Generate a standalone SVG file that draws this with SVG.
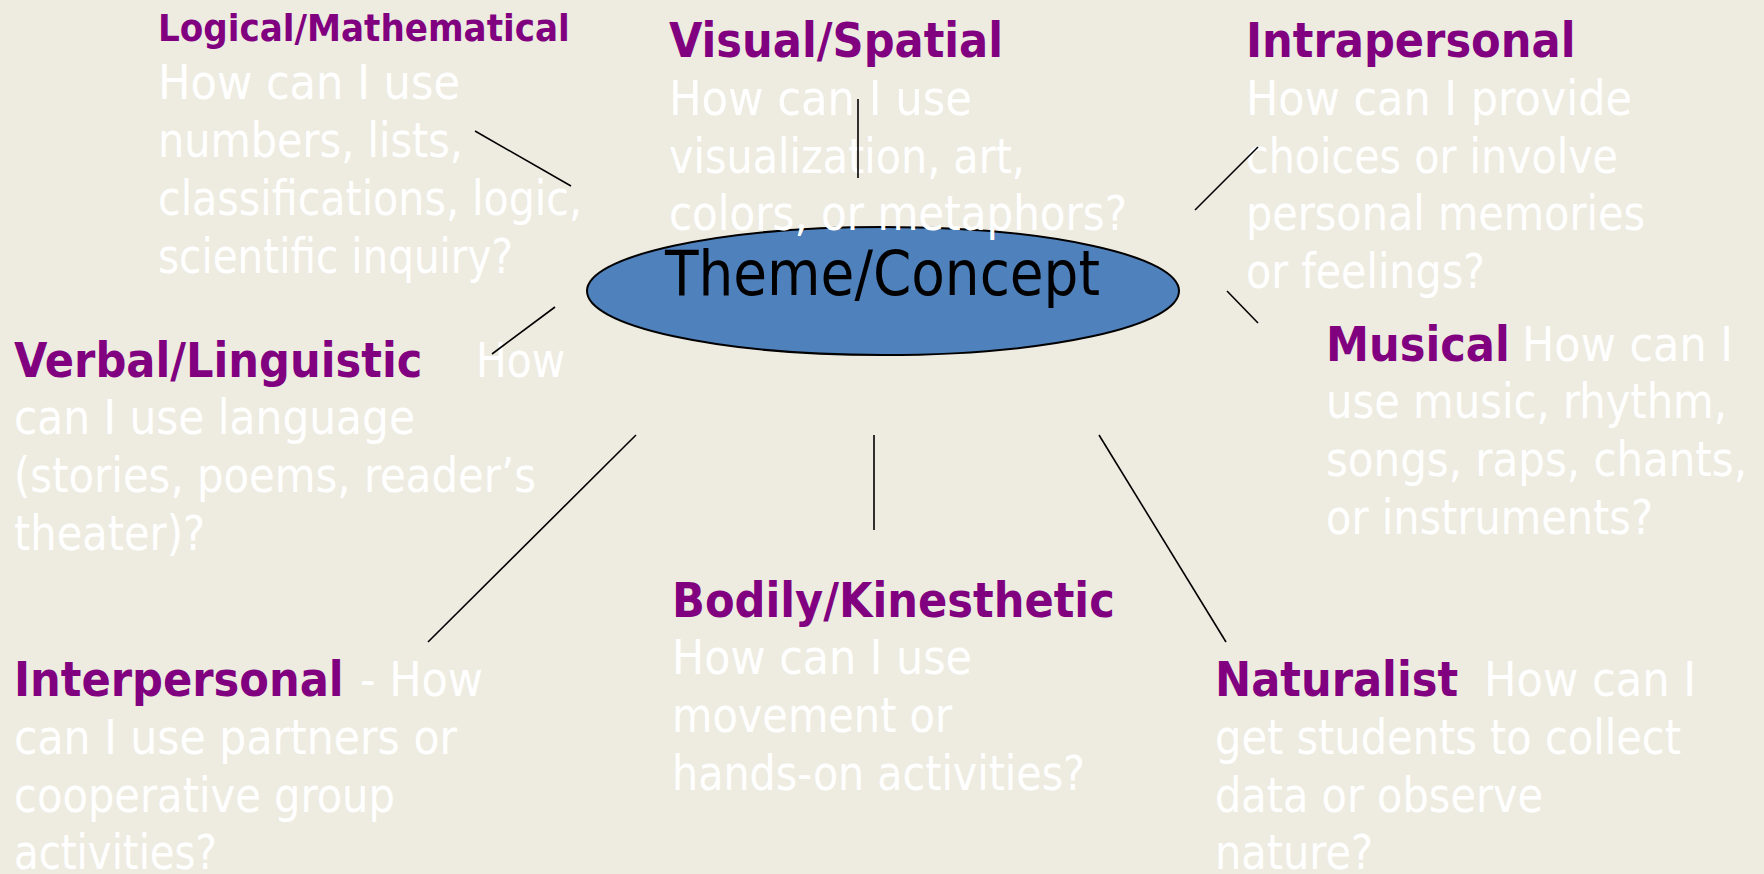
<svg xmlns="http://www.w3.org/2000/svg" width="1764" height="874" viewBox="0 0 1764 874">
<style>
text{font-family:"DejaVu Sans Condensed","DejaVu Sans",sans-serif;font-stretch:condensed;}
.h{font-weight:bold;fill:#800080;font-size:48px;}
.hs{font-weight:bold;fill:#800080;font-size:38px;}
.b{fill:#FFFFFF;font-size:48px;}
.c{fill:#000000;font-size:63px;}
.ln{stroke:#000;stroke-width:1.6;fill:none;}
</style>
<rect width="1764" height="874" fill="#EEECE1"/>
<g id="center">
<ellipse cx="883" cy="291" rx="296" ry="64" fill="#4F81BD" stroke="#000" stroke-width="2"/>
</g>
<g id="logical">
<text class="hs" x="158" y="41">Logical/Mathematical</text>
<text class="b" x="158" y="99" textLength="302" lengthAdjust="spacingAndGlyphs">How can I use</text>
<text class="b" x="158" y="157" textLength="305" lengthAdjust="spacingAndGlyphs">numbers, lists,</text>
<text class="b" x="158" y="215" textLength="424" lengthAdjust="spacingAndGlyphs">classifications, logic,</text>
<text class="b" x="158" y="273" textLength="355" lengthAdjust="spacingAndGlyphs">scientific inquiry?</text>
</g>
<g id="visual">
<text class="h" x="669" y="57">Visual/Spatial</text>
<text class="b" x="669" y="115" textLength="303" lengthAdjust="spacingAndGlyphs">How can I use</text>
<text class="b" x="669" y="173" textLength="356" lengthAdjust="spacingAndGlyphs">visualization, art,</text>
<text class="b" x="669" y="230" textLength="458" lengthAdjust="spacingAndGlyphs">colors, or metaphors?</text>
</g>
<g id="intrapersonal">
<text class="h" x="1246" y="57">Intrapersonal</text>
<text class="b" x="1246" y="115" textLength="386" lengthAdjust="spacingAndGlyphs">How can I provide</text>
<text class="b" x="1246" y="173" textLength="372" lengthAdjust="spacingAndGlyphs">choices or involve</text>
<text class="b" x="1246" y="230" textLength="399" lengthAdjust="spacingAndGlyphs">personal memories</text>
<text class="b" x="1246" y="288" textLength="239" lengthAdjust="spacingAndGlyphs">or feelings?</text>
</g>
<g id="musical">
<text class="h" x="1326" y="361">Musical</text>
<text class="b" x="1522" y="361" textLength="211" lengthAdjust="spacingAndGlyphs">How can I</text>
<text class="b" x="1326" y="418" textLength="401" lengthAdjust="spacingAndGlyphs">use music, rhythm,</text>
<text class="b" x="1326" y="476" textLength="421" lengthAdjust="spacingAndGlyphs">songs, raps, chants,</text>
<text class="b" x="1326" y="534" textLength="327" lengthAdjust="spacingAndGlyphs">or instruments?</text>
</g>
<g id="verbal">
<text class="h" x="14" y="377">Verbal/Linguistic</text>
<text class="b" x="476" y="377" textLength="89" lengthAdjust="spacingAndGlyphs">How</text>
<text class="b" x="14" y="434" textLength="401" lengthAdjust="spacingAndGlyphs">can I use language</text>
<text class="b" x="14" y="492" textLength="522" lengthAdjust="spacingAndGlyphs">(stories, poems, reader’s</text>
<text class="b" x="14" y="550" textLength="191" lengthAdjust="spacingAndGlyphs">theater)?</text>
</g>
<g id="bodily">
<text class="h" x="672" y="617">Bodily/Kinesthetic</text>
<text class="b" x="672" y="674" textLength="300" lengthAdjust="spacingAndGlyphs">How can I use</text>
<text class="b" x="672" y="732" textLength="280" lengthAdjust="spacingAndGlyphs">movement or</text>
<text class="b" x="672" y="790" textLength="413" lengthAdjust="spacingAndGlyphs">hands-on activities?</text>
</g>
<g id="interpersonal">
<text class="h" x="14" y="696">Interpersonal</text>
<text class="b" x="360" y="696" textLength="123" lengthAdjust="spacingAndGlyphs">- How</text>
<text class="b" x="14" y="754" textLength="443" lengthAdjust="spacingAndGlyphs">can I use partners or</text>
<text class="b" x="14" y="812" textLength="381" lengthAdjust="spacingAndGlyphs">cooperative group</text>
<text class="b" x="14" y="869" textLength="203" lengthAdjust="spacingAndGlyphs">activities?</text>
</g>
<g id="naturalist">
<text class="h" x="1215" y="696">Naturalist</text>
<text class="b" x="1484" y="696" textLength="212" lengthAdjust="spacingAndGlyphs">How can I</text>
<text class="b" x="1215" y="754" textLength="466" lengthAdjust="spacingAndGlyphs">get students to collect</text>
<text class="b" x="1215" y="812" textLength="328" lengthAdjust="spacingAndGlyphs">data or observe</text>
<text class="b" x="1215" y="869" textLength="158" lengthAdjust="spacingAndGlyphs">nature?</text>
</g>
<g id="center-label">
<text class="c" x="665" y="295" textLength="435" lengthAdjust="spacingAndGlyphs">Theme/Concept</text>
</g>
<g id="connectors">
<line class="ln" x1="475" y1="131" x2="571" y2="186"/>
<line class="ln" x1="858" y1="99" x2="858" y2="178"/>
<line class="ln" x1="1195" y1="210" x2="1258" y2="147"/>
<line class="ln" x1="1227" y1="291" x2="1258" y2="323"/>
<line class="ln" x1="492" y1="354" x2="555" y2="307"/>
<line class="ln" x1="636" y1="435" x2="428" y2="642"/>
<line class="ln" x1="874" y1="435" x2="874" y2="530"/>
<line class="ln" x1="1099" y1="435" x2="1226" y2="642"/>
</g>
</svg>
